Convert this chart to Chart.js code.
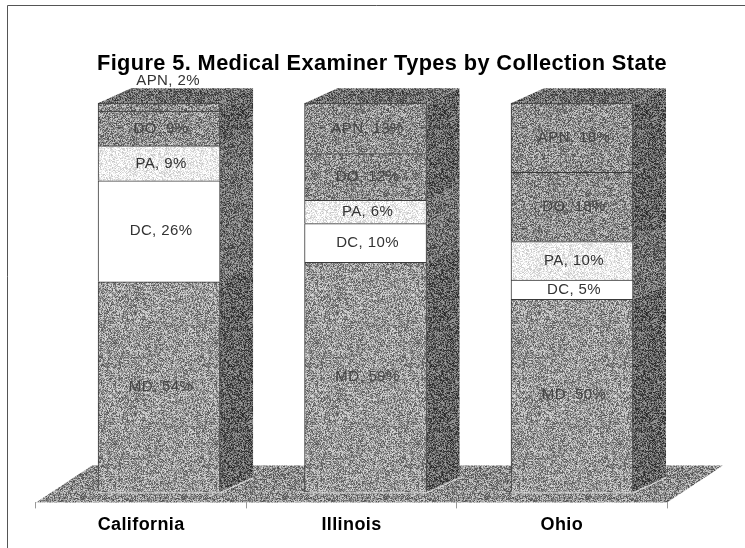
<!DOCTYPE html>
<html>
<head>
<meta charset="utf-8">
<style>
  html, body { margin: 0; padding: 0; background: #fff; overflow: hidden; }
  #wrap { width: 745px; height: 548px; }
</style>
<script src="https://cdn.jsdelivr.net/npm/chart.js@4"></script>
</head>
<body>
<div id="wrap"><canvas id="myChart" width="745" height="548"></canvas></div>
<script>
const titleText = 'Figure 5. Medical Examiner Types by Collection State'
const states = ['California', 'Illinois', 'Ohio']
const md = [54, 59, 50]
const dc = [26, 10, 5]
const pa = [9, 6, 10]
const dob = [9, 12, 18]
const apn = [2, 13, 18]

// 3D depth of the bars and the floor, in pixels
const depthX = 33
const depthY = 15
const floorX = 56
const floorY = 37

// grainy grey fill like the scanned print
function texture(mean, spread) {
    const c = document.createElement('canvas')
    c.width = 101
    c.height = 101
    const g = c.getContext('2d')
    const img = g.createImageData(101, 101)
    let seed = mean * 31 + spread + 7
    for (let i = 0; i < img.data.length; i += 4) {
        seed = (Math.imul(seed, 1664525) + 1013904223) | 0
        const n = ((seed >>> 16) & 1023) / 511.5 - 1
        const v = Math.max(0, Math.min(255, mean + n * spread))
        img.data[i] = img.data[i + 1] = img.data[i + 2] = v
        img.data[i + 3] = 255
    }
    g.putImageData(img, 0, 0)
    return g.createPattern(c, 'repeat')
}

const front = texture(152, 70)
const frontLight = texture(142, 70)
const speckle = texture(236, 38)
const side = texture(98, 65)
const sideLight = texture(112, 65)
const topFace = texture(108, 65)
const floorFill = texture(142, 70)

const totals = states.map((s, i) => md[i] + dc[i] + pa[i] + dob[i] + apn[i])

function makeSet(name, values, fill, sideFill, textColor) {
    return {
        label: name,
        // the source is a 100% stacked chart, so each column is scaled to its total
        data: values.map((v, i) => ({ x: i, y: v / totals[i] * 100 })),
        shown: values,
        backgroundColor: fill,
        sideFill: sideFill,
        textColor: textColor,
        borderColor: '#3a3a3a',
        borderWidth: 1,
        barThickness: 122,
        stack: 'a',
        xAxisID: 'barX',
        clip: false
    }
}

const boxPlugin = {
    id: 'box3d',
    afterLayout(chart) {
        // title sits right of the plot centre in the original
        chart.titleBlock.left += 61
    },
    beforeDraw(chart) {
        // scan is a bit stretched sideways, so all text runs slightly wide
        chart.ctx.letterSpacing = '0.4px'
    },
    beforeDatasetsDraw(chart) {
        const ctx = chart.ctx
        const a = chart.chartArea
        ctx.save()
        // frame: only the top and left edges show
        ctx.strokeStyle = '#555'
        ctx.lineWidth = 1
        ctx.beginPath()
        ctx.moveTo(chart.width, 5.5)
        ctx.lineTo(7.5, 5.5)
        ctx.lineTo(7.5, chart.height)
        ctx.stroke()
        // floor
        ctx.fillStyle = floorFill
        ctx.beginPath()
        ctx.moveTo(a.left, a.bottom)
        ctx.lineTo(a.right, a.bottom)
        ctx.lineTo(a.right + floorX, a.bottom - floorY)
        ctx.lineTo(a.left + floorX, a.bottom - floorY)
        ctx.closePath()
        ctx.fill()
        // side and top faces come from the bars that the library placed
        chart.data.datasets.forEach((ds, d) => {
            const meta = chart.getDatasetMeta(d)
            meta.data.forEach((bar, i) => {
                const right = bar.x + bar.width / 2
                const left = bar.x - bar.width / 2
                const t = Math.min(bar.y, bar.base)
                const b = Math.max(bar.y, bar.base)
                ctx.fillStyle = ds.sideFill
                ctx.beginPath()
                ctx.moveTo(right, t)
                ctx.lineTo(right + depthX, t - depthY)
                ctx.lineTo(right + depthX, b - depthY)
                ctx.lineTo(right, b)
                ctx.closePath()
                ctx.fill()
                if (d === chart.data.datasets.length - 1) {
                    ctx.fillStyle = topFace
                    ctx.beginPath()
                    ctx.moveTo(left, t)
                    ctx.lineTo(left + depthX, t - depthY)
                    ctx.lineTo(right + depthX, t - depthY)
                    ctx.lineTo(right, t)
                    ctx.closePath()
                    ctx.fill()
                }
                if (d === 0) {
                    // pale edge where the column meets the floor
                    ctx.strokeStyle = '#ddd'
                    ctx.beginPath()
                    ctx.moveTo(left, b + 1.5)
                    ctx.lineTo(right, b + 1.5)
                    ctx.lineTo(right + depthX, b - depthY + 1.5)
                    ctx.stroke()
                }
            })
        })
        ctx.restore()
    },
    afterDatasetsDraw(chart) {
        const ctx = chart.ctx
        ctx.save()
        ctx.textAlign = 'center'
        ctx.textBaseline = 'middle'
        ctx.font = '15px "Liberation Sans", Arial, sans-serif'
        chart.data.datasets.forEach((ds, d) => {
            chart.getDatasetMeta(d).data.forEach((bar, i) => {
                const value = ds.shown[i]
                const text = `${ds.label}, ${value}%`
                // a 2% slice is too thin, so its label sits above the column
                const y = value < 3 ? bar.y - 22 : (bar.y + bar.base) / 2
                ctx.fillStyle = value < 3 ? '#333' : ds.textColor
                ctx.fillText(text, bar.x + (value < 3 ? 9 : 2), y)
            })
        })
        ctx.restore()
    }
}

const data = {
    datasets: [
        makeSet('MD', md, front, side, '#444'),
        makeSet('DC', dc, '#ffffff', sideLight, '#333'),
        makeSet('PA', pa, speckle, sideLight, '#333'),
        makeSet('DO', dob, frontLight, side, '#444'),
        makeSet('APN', apn, frontLight, side, '#444')
    ]
}

const config = {
    type: 'bar',
    data: data,
    plugins: [boxPlugin],
    options: {
        responsive: false,
        animation: false,
        layout: { padding: { left: 36, right: 78, top: 14, bottom: 6 } },
        plugins: {
            legend: { display: false },
            tooltip: { enabled: false },
            title: {
                display: true,
                text: titleText,
                color: '#000',
                font: { family: '"Liberation Sans", Arial, sans-serif', size: 22.5, weight: 'bold' },
                padding: { top: 36.2, bottom: 26 }
            }
        },
        scales: {
            x: {
                type: 'category',
                labels: states,
                offset: true,
                border: { display: false },
                grid: { offset: true, drawOnChartArea: false, tickLength: 6, color: '#999' },
                ticks: {
                    color: '#000',
                    padding: 6,
                    maxRotation: 0,
                    font: { family: '"Liberation Sans", Arial, sans-serif', size: 18, weight: 'bold' }
                }
            },
            // bars sit a bit right of the category labels because of the 3D view
            barX: {
                type: 'linear',
                display: false,
                offset: false,
                min: -0.596,
                max: 2.46,
                grid: { display: false }
            },
            y: {
                display: false,
                stacked: true,
                min: -2.83,
                max: 100,
                grid: { display: false }
            }
        }
    }
}

const myChart = new Chart(document.getElementById('myChart'), config)
</script>
</body>
</html>
